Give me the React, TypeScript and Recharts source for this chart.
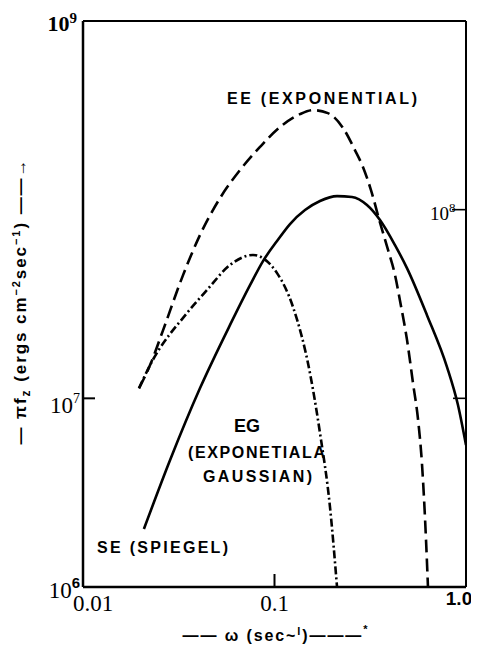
import { LineChart, Line, XAxis, YAxis } from "recharts";

// omega (sec^-1) vs pi*F (ergs cm^-2 sec^-1)
const xTicks = [0.01, 0.1, 1];
const yTicks = [1e6, 1e7, 1e8, 1e9];

// dashed
const eeCurve = [
  { x: 0.0196, y: 1.13e7 },
  { x: 0.0224, y: 1.5e7 },
  { x: 0.0262, y: 2.3e7 },
  { x: 0.0333, y: 4.5e7 },
  { x: 0.0408, y: 7.33e7 },
  { x: 0.0519, y: 1.15e8 },
  { x: 0.066, y: 1.62e8 },
  { x: 0.084, y: 2.15e8 },
  { x: 0.1068, y: 2.74e8 },
  { x: 0.1359, y: 3.21e8 },
  { x: 0.159, y: 3.37e8 },
  { x: 0.19, y: 3.25e8 },
  { x: 0.228, y: 2.71e8 },
  { x: 0.263, y: 2.07e8 },
  { x: 0.29, y: 1.68e8 },
  { x: 0.319, y: 1.27e8 },
  { x: 0.356, y: 8.5e7 },
  { x: 0.392, y: 6.1e7 },
  { x: 0.426, y: 4.5e7 },
  { x: 0.452, y: 3.3e7 },
  { x: 0.492, y: 2.04e7 },
  { x: 0.529, y: 1.2e7 },
  { x: 0.562, y: 7.7e6 },
  { x: 0.589, y: 4.5e6 },
  { x: 0.618, y: 1.8e6 },
  { x: 0.633, y: 1e6 },
];

// dash-dot
const egCurve = [
  { x: 0.0196, y: 1.13e7 },
  { x: 0.0224, y: 1.5e7 },
  { x: 0.0349, y: 2.83e7 },
  { x: 0.0444, y: 3.75e7 },
  { x: 0.0586, y: 5.09e7 },
  { x: 0.0772, y: 5.75e7 },
  { x: 0.1031, y: 4.61e7 },
  { x: 0.1249, y: 3.05e7 },
  { x: 0.1532, y: 1.36e7 },
  { x: 0.1728, y: 6.55e6 },
  { x: 0.1949, y: 2.65e6 },
  { x: 0.2121, y: 1e6 },
];

// solid
const seCurve = [
  { x: 0.0208, y: 2.03e6 },
  { x: 0.0285, y: 4.71e6 },
  { x: 0.0408, y: 1.13e7 },
  { x: 0.0586, y: 2.45e7 },
  { x: 0.0745, y: 3.98e7 },
  { x: 0.0871, y: 5.34e7 },
  { x: 0.1031, y: 6.82e7 },
  { x: 0.1205, y: 8.39e7 },
  { x: 0.1443, y: 9.95e7 },
  { x: 0.1728, y: 1.111e8 },
  { x: 0.2121, y: 1.18e8 },
  { x: 0.2539, y: 1.167e8 },
  { x: 0.304, y: 1.058e8 },
  { x: 0.3556, y: 8.81e7 },
  { x: 0.4258, y: 6.49e7 },
  { x: 0.4918, y: 4.9e7 },
  { x: 0.6256, y: 2.76e7 },
  { x: 0.796, y: 1.465e7 },
  { x: 0.908, y: 9.21e6 },
  { x: 1.0, y: 5.65e6 },
];

const SERIF = "'Liberation Serif', 'Times New Roman', serif";
const SANS = "'Liberation Sans', Arial, sans-serif";

const XTick = (props: any) => {
  const x = Number(props.x);
  const y = Number(props.y);
  const v = props.payload.value;
  if (v === 1) {
    return (
      <text x={x - 7} y={y + 18} textAnchor="middle" fontFamily={SANS} fontWeight="bold" fontSize={19}>
        1.0
      </text>
    );
  }
  return (
    <g>
      {v === 0.1 && <path d={`M${x},${y}V${y - 13}`} stroke="#000" strokeWidth={2} fill="none" />}
      <text x={x + (v === 0.01 ? 10 : 0)} y={y + 24} textAnchor="middle" fontFamily={SERIF} fontSize={23}>
        {v === 0.01 ? "0.01" : "0.1"}
      </text>
    </g>
  );
};

const LeftTick = (props: any) => {
  const x = Number(props.x);
  const y = Number(props.y);
  const v = props.payload.value;
  if (v === 1e9) {
    return (
      <text x={x - 6} y={y + 10} textAnchor="end" fontFamily={SERIF} fontWeight="bold" fontSize={22}>
        10<tspan dy={-8} fontSize={15}>9</tspan>
      </text>
    );
  }
  if (v === 1e7) {
    return (
      <g>
        <path d={`M${x},${y}H${x + 12}`} stroke="#000" strokeWidth={2} fill="none" />
        <text x={x - 3} y={y + 15} textAnchor="end" fontFamily={SERIF} fontSize={23}>
          10<tspan dy={-10} fontSize={14}>7</tspan>
        </text>
      </g>
    );
  }
  if (v === 1e6) {
    return (
      <text x={x - 3} y={y + 11} textAnchor="end" fontFamily={SERIF} fontSize={23}>
        10<tspan dy={-10} fontSize={15} fontWeight="bold" fontFamily={SANS}>6</tspan>
      </text>
    );
  }
  return <g />;
};

const RightTick = (props: any) => {
  const x = Number(props.x);
  const y = Number(props.y);
  const v = props.payload.value;
  if (v === 1e8) {
    return (
      <g>
        <path d={`M${x},${y}H${x - 14}`} stroke="#000" strokeWidth={1.6} fill="none" />
        <text x={x - 36} y={y + 10} fontFamily={SERIF} fontSize={19}>
          10<tspan dy={-8} fontSize={13}>8</tspan>
        </text>
      </g>
    );
  }
  if (v === 1e7) {
    return <path d={`M${x},${y}H${x - 13}`} stroke="#000" strokeWidth={1.6} fill="none" />;
  }
  return <g />;
};

export default function App() {
  return (
    <div style={{ position: "relative", width: 471, height: 637 }}>
      <LineChart
        width={471}
        height={637}
        margin={{ top: 12, right: 12, left: 74, bottom: 57 }}
      >
        <XAxis
          dataKey="x"
          type="number"
          scale="log"
          domain={[0.01, 1]}
          ticks={xTicks}
          interval={0}
          allowDataOverflow
          height={1}
          tickSize={0}
          tickMargin={0}
          tick={<XTick />}
          axisLine={{ stroke: "#000", strokeWidth: 2.5 }}
          tickLine={false}
        />
        <XAxis
          xAxisId="top"
          dataKey="x"
          type="number"
          scale="log"
          domain={[0.01, 1]}
          allowDataOverflow
          orientation="top"
          height={1}
          tick={false}
          tickLine={false}
          axisLine={{ stroke: "#000", strokeWidth: 2 }}
        />
        <YAxis
          type="number"
          scale="log"
          domain={[1e6, 1e9]}
          ticks={yTicks}
          interval={0}
          allowDataOverflow
          width={1}
          tickSize={0}
          tickMargin={0}
          tick={<LeftTick />}
          axisLine={{ stroke: "#000", strokeWidth: 2.5 }}
          tickLine={false}
        />
        <YAxis
          yAxisId="right"
          orientation="right"
          type="number"
          scale="log"
          domain={[1e6, 1e9]}
          ticks={yTicks}
          interval={0}
          allowDataOverflow
          width={1}
          tickSize={0}
          tickMargin={0}
          tick={<RightTick />}
          axisLine={{ stroke: "#000", strokeWidth: 2 }}
          tickLine={false}
        />
        <Line
          data={eeCurve}
          dataKey="y"
          type="monotone"
          stroke="#000"
          strokeWidth={2.6}
          strokeDasharray="13 6"
          dot={false}
          isAnimationActive={false}
        />
        <Line
          data={egCurve}
          dataKey="y"
          type="monotone"
          stroke="#000"
          strokeWidth={2.6}
          strokeDasharray="8 3 2 3"
          dot={false}
          isAnimationActive={false}
        />
        <Line
          data={seCurve}
          dataKey="y"
          type="monotone"
          stroke="#000"
          strokeWidth={2.6}
          dot={false}
          isAnimationActive={false}
        />
      </LineChart>
      <svg
        width={471}
        height={637}
        style={{ position: "absolute", left: 0, top: 0, pointerEvents: "none" }}
      >
        <g fontFamily={SANS} fontWeight="bold" fill="#000">
          <text x={219} y={96} fontSize={16} textLength={190} lengthAdjust="spacing">
            EE  (EXPONENTIAL)
          </text>
          <text x={239} y={424} fontSize={18} textAnchor="middle">
            EG
          </text>
          <text x={180} y={450} fontSize={16} textLength={137} lengthAdjust="spacing">
            (EXPONETIALA
          </text>
          <text x={195} y={474} fontSize={16} textLength={109} lengthAdjust="spacing">
            GAUSSIAN)
          </text>
          <text x={89} y={545} fontSize={16} textLength={131} lengthAdjust="spacing">
            SE  (SPIEGEL)
          </text>
          <text
            transform="translate(18,294) rotate(-90)"
            textAnchor="middle"
            fontSize={17}
            textLength={285}
            lengthAdjust="spacing"
          >
            — πf<tspan dy={4} fontSize={12}>z</tspan>
            <tspan dy={-4}> (ergs cm</tspan>
            <tspan dy={-6} fontSize={11}>−2</tspan>
            <tspan dy={6}>sec</tspan>
            <tspan dy={-6} fontSize={11}>−1</tspan>
            <tspan dy={6}>) ——→</tspan>
          </text>
          <text x={267} y={633} textAnchor="middle" fontSize={16} textLength={185} lengthAdjust="spacing">
            —— ω  (sec~<tspan dy={-6} fontSize={11}>l</tspan>
            <tspan dy={6}>)———</tspan>
            <tspan dy={-8} fontSize={11}>*</tspan>
          </text>
        </g>
      </svg>
    </div>
  );
}
